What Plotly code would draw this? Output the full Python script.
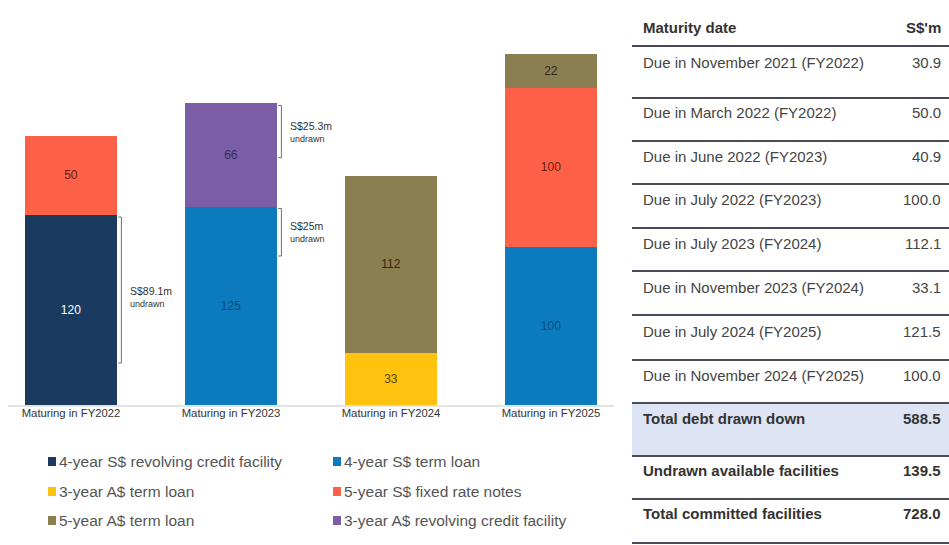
import plotly.graph_objects as go

W, H = 949, 545

# ---- chart data (S$ million) ----
categories = ["Maturing in FY2022", "Maturing in FY2023", "Maturing in FY2024", "Maturing in FY2025"]
series_names = [
    "4-year S$ revolving credit facility",
    "4-year S$ term loan",
    "3-year A$ term loan",
    "5-year S$ fixed rate notes",
    "5-year A$ term loan",
    "3-year A$ revolving credit facility",
]
rcf_sgd_4y = [120, None, None, None]
term_sgd_4y = [None, 125, None, 100]
term_aud_3y = [None, None, 33, None]
notes_sgd_5y = [50, None, None, 100]
term_aud_5y = [None, None, 112, 22]
rcf_aud_3y = [None, 66, None, None]
series_values = [rcf_sgd_4y, term_sgd_4y, term_aud_3y, notes_sgd_5y, term_aud_5y, rcf_aud_3y]

series_colors = ["#1b3a5f", "#0b7bbd", "#ffc20e", "#fd6249", "#8b7f52", "#7b5ea6"]
label_colors = ["#ffffff", "#0d4f82", "#5a4600", "#6e1a10", "#2b2a18", "#3a2a5c"]

# undrawn facility brackets: category index, span (bottom, top), label and its height
undrawn_cat = [0, 1, 1]
undrawn_span = [(26.5, 118.6), (156, 189), (94, 124)]
undrawn_label = ["S$89.1m", "S$25.3m", "S$25m"]
undrawn_label_at = [68, 172.5, 109]

# ---- debt maturity table ----
table_header = ["Maturity date", "S$'m"]
maturity_dates = [
    "Due in November 2021 (FY2022)",
    "Due in March 2022 (FY2022)",
    "Due in June 2022 (FY2023)",
    "Due in July 2022 (FY2023)",
    "Due in July 2023 (FY2024)",
    "Due in November 2023 (FY2024)",
    "Due in July 2024 (FY2025)",
    "Due in November 2024 (FY2025)",
]
maturity_amounts = ["30.9", "50.0", "40.9", "100.0", "112.1", "33.1", "121.5", "100.0"]
summary_labels = ["Total debt drawn down", "Undrawn available facilities", "Total committed facilities"]
summary_amounts = ["588.5", "139.5", "728.0"]

FONT = "Liberation Sans, Arial, sans-serif"


def px(x):
    return x / W


def py(y):
    return 1 - y / H


fig = go.Figure()
for name, vals, col, tcol in zip(series_names, series_values, series_colors, label_colors):
    fig.add_trace(go.Bar(
        x=categories, y=vals, name=name,
        marker=dict(color=col, line=dict(width=0)),
        text=[("" if v is None else str(v)) for v in vals],
        textposition="inside", insidetextanchor="middle", textangle=0,
        textfont=dict(family=FONT, size=12, color=tcol),
        width=0.575, hoverinfo="skip", showlegend=False,
    ))

shapes = []
annotations = []

# brackets marking undrawn amounts
for ci, (lo, hi), lab, at in zip(undrawn_cat, undrawn_span, undrawn_label, undrawn_label_at):
    xb = ci + 0.315
    xt = xb - 0.02
    shapes.append(dict(type="path", xref="x", yref="y",
                       path=f"M {xt} {lo} L {xb} {lo} L {xb} {hi} L {xt} {hi}",
                       line=dict(color="#707070", width=1)))
    annotations.append(dict(xref="x", yref="y", x=ci + 0.355, y=at, yshift=6,
                            text=lab, showarrow=False, xanchor="left", yanchor="middle",
                            font=dict(family=FONT, size=10.5, color="#333333")))
    annotations.append(dict(xref="x", yref="y", x=ci + 0.355, y=at, yshift=-7,
                            text="undrawn", showarrow=False, xanchor="left", yanchor="middle",
                            font=dict(family=FONT, size=9, color="#333333")))

# legend, two columns
leg_cols = [48, 333]
leg_rows = [461, 491, 520]
for i, (name, col) in enumerate(zip(series_names, series_colors)):
    lx = leg_cols[i % 2]
    ly = leg_rows[i // 2]
    shapes.append(dict(type="rect", xref="paper", yref="paper",
                       x0=px(lx), x1=px(lx + 8), y0=py(ly + 5), y1=py(ly - 4),
                       fillcolor=col, line=dict(width=0)))
    annotations.append(dict(xref="paper", yref="paper", x=px(lx + 9), y=py(ly),
                            text=name, showarrow=False, xanchor="left", yanchor="middle",
                            font=dict(family=FONT, size=15.5, color="#555555")))

# table
tx0, tx1 = 632, 949
text_left, text_right = 641, 943
shapes.append(dict(type="rect", xref="paper", yref="paper", layer="below",
                   x0=px(tx0), x1=px(tx1), y0=py(456), y1=py(403),
                   fillcolor="#dde4f3", line=dict(width=0)))
rule_ys = [46, 98, 141, 184, 228, 271, 315, 360, 403, 456, 499, 543]
for ry in rule_ys:
    shapes.append(dict(type="line", xref="paper", yref="paper",
                       x0=px(tx0), x1=px(tx1), y0=py(ry), y1=py(ry),
                       line=dict(color="#4b4a5c", width=2)))

annotations.append(dict(xref="paper", yref="paper", x=px(text_left), y=py(27),
                        text="<b>" + table_header[0] + "</b>", showarrow=False,
                        xanchor="left", yanchor="middle",
                        font=dict(family=FONT, size=15, color="#333333")))
annotations.append(dict(xref="paper", yref="paper", x=px(text_right), y=py(27),
                        text="<b>" + table_header[1] + "</b>", showarrow=False,
                        xanchor="right", yanchor="middle",
                        font=dict(family=FONT, size=15, color="#333333")))

row_text_ys = [62, 113, 156, 199, 243, 287, 331, 375]
for ty, d, a in zip(row_text_ys, maturity_dates, maturity_amounts):
    annotations.append(dict(xref="paper", yref="paper", x=px(text_left), y=py(ty),
                            text=d, showarrow=False, xanchor="left", yanchor="middle",
                            font=dict(family=FONT, size=15, color="#444444")))
    annotations.append(dict(xref="paper", yref="paper", x=px(text_right), y=py(ty),
                            text=a, showarrow=False, xanchor="right", yanchor="middle",
                            font=dict(family=FONT, size=15, color="#444444")))

summary_ys = [418, 470, 513]
for ty, d, a in zip(summary_ys, summary_labels, summary_amounts):
    annotations.append(dict(xref="paper", yref="paper", x=px(text_left), y=py(ty),
                            text="<b>" + d + "</b>", showarrow=False, xanchor="left", yanchor="middle",
                            font=dict(family=FONT, size=15, color="#333333")))
    annotations.append(dict(xref="paper", yref="paper", x=px(text_right), y=py(ty),
                            text="<b>" + a + "</b>", showarrow=False, xanchor="right", yanchor="middle",
                            font=dict(family=FONT, size=15, color="#333333")))

fig.update_layout(
    width=W, height=H,
    margin=dict(l=0, r=0, t=0, b=0),
    paper_bgcolor="white", plot_bgcolor="white",
    barmode="stack", bargap=0,
    showlegend=False,
    xaxis=dict(domain=[px(7), px(615)], range=[-0.4, 3.4], type="category",
               showgrid=False, zeroline=False, showline=False, ticks="",
               tickfont=dict(family=FONT, size=11.3, color="#333333")),
    yaxis=dict(domain=[py(405), py(24.6)], range=[0, 240], visible=False,
               showgrid=False, zeroline=False),
    shapes=shapes + [dict(type="line", xref="paper", yref="paper",
                          x0=px(8), x1=px(614), y0=py(406), y1=py(406),
                          line=dict(color="#d9d9d9", width=1.5))],
    annotations=annotations,
)

fig.write_html("out.html")
